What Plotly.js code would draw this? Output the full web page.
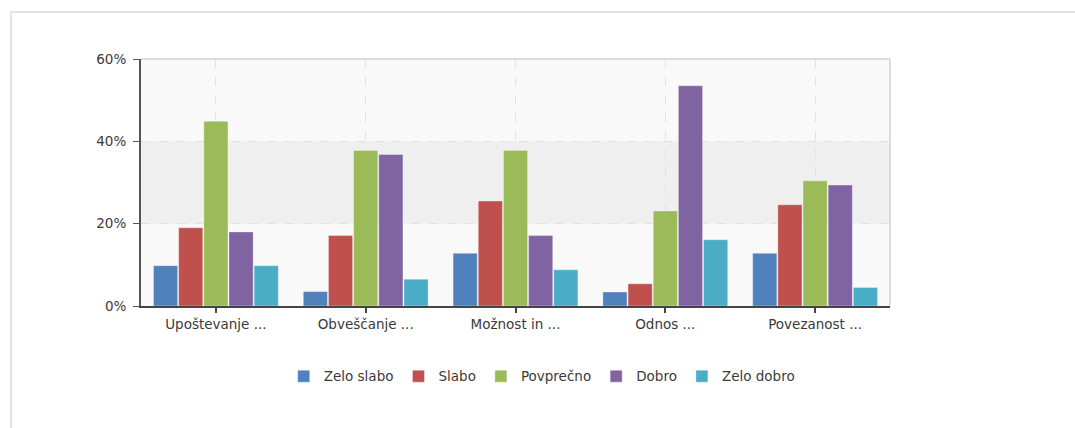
<!DOCTYPE html>
<html>
<head>
<meta charset="utf-8">
<script src="https://cdn.plot.ly/plotly-3.0.1.min.js"></script>
<style>
  body { margin: 0; background: #fff; }
  #frame { position: absolute; left: 10px; top: 11px; width: 1065px; height: 417px;
           border-left: 2px solid #e2e2e2; border-top: 2px solid #e2e2e2; }
  #plot { position: absolute; left: 0; top: 0; width: 1075px; height: 428px; }
</style>
</head>
<body>
<div id="frame"></div>
<div id="plot"></div>
<script>
const categories = ['Upoštevanje ...', 'Obveščanje ...', 'Možnost in ...', 'Odnos ...', 'Povezanost ...'];
const seriesNames = ['Zelo slabo', 'Slabo', 'Povprečno', 'Dobro', 'Zelo dobro'];
const colors = ['#4f81bd', '#c0504d', '#9bbb59', '#8064a2', '#4bacc6'];

const zeloSlabo = [9.8, 3.5, 12.8, 3.4, 12.8];
const slabo = [19.0, 17.1, 25.5, 5.4, 24.6];
const povprecno = [44.9, 37.8, 37.8, 23.1, 30.4];
const dobro = [18.0, 36.8, 17.1, 53.5, 29.4];
const zeloDobro = [9.8, 6.5, 8.8, 16.1, 4.5];

const yTicks = [0, 20, 40, 60];

const allValues = [zeloSlabo, slabo, povprecno, dobro, zeloDobro];

const traces = allValues.map((vals, i) => ({
    type: 'bar',
    x: categories,
    y: vals,
    name: seriesNames[i],
    marker: { color: colors[i], line: { color: 'rgba(255,255,255,0.35)', width: 1 } },
    hovertemplate: '%{y:.1f}%<extra>' + seriesNames[i] + '</extra>'
}));

const layout = {
    width: 1075,
    height: 428,
    margin: { l: 141, r: 185, t: 59, b: 122 },
    paper_bgcolor: 'rgba(0,0,0,0)',
    plot_bgcolor: '#f9f9f9',
    font: { family: 'DejaVu Sans, Verdana, sans-serif', size: 13.5, color: '#3a3a3a' },
    barmode: 'group',
    bargap: 0.16,
    bargroupgap: 0.04,
    showlegend: true,
    legend: {
        orientation: 'h',
        x: 0.535, xanchor: 'center',
        y: -0.285, yanchor: 'middle',
        font: { size: 13.5, color: '#3a3a3a' },
        itemwidth: 30
    },
    xaxis: {
        showline: true, linecolor: '#444', linewidth: 2,
        ticks: 'outside', ticklen: 5, tickcolor: '#444', tickwidth: 2,
        showgrid: true, gridcolor: '#e2e2e2', griddash: 'dash', gridwidth: 1,
        tickfont: { size: 13.5, color: '#3a3a3a' }
    },
    yaxis: {
        range: [0, 60],
        tickvals: yTicks,
        ticktext: yTicks.map(v => v + '%'),
        showline: true, linecolor: '#555', linewidth: 2,
        ticks: 'outside', ticklen: 6, tickcolor: '#555', tickwidth: 1,
        ticklabelstandoff: 4,
        showgrid: true, gridcolor: '#e2e2e2', griddash: 'dash', gridwidth: 1,
        zeroline: false,
        tickfont: { size: 13.5, color: '#3a3a3a' }
    },
    shapes: [
        { type: 'rect', xref: 'paper', yref: 'y', x0: 0, x1: 1, y0: 20, y1: 40,
          fillcolor: '#efefef', line: { width: 0 }, layer: 'below' },
        { type: 'line', xref: 'paper', yref: 'paper', x0: 0, x1: 1, y0: 1, y1: 1,
          line: { color: '#dcdcdc', width: 2 } },
        { type: 'line', xref: 'paper', yref: 'paper', x0: 1, x1: 1, y0: 0, y1: 1,
          line: { color: '#dcdcdc', width: 2 } }
    ]
};

Plotly.newPlot('plot', traces, layout, { displayModeBar: false, staticPlot: true });
</script>
</body>
</html>
